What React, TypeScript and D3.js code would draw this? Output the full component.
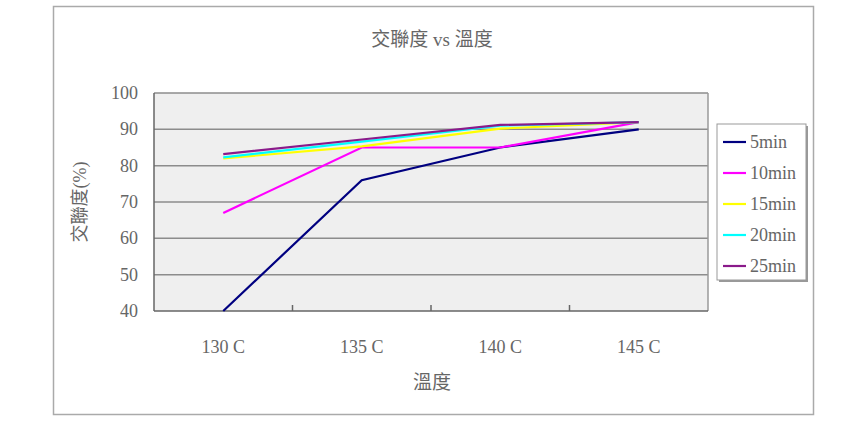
import * as d3 from 'd3';
import React, { useRef, useEffect } from 'react'

// categories and series
const categories = ["130 C", "135 C", "140 C", "145 C"];
const seriesNames = ["5min", "10min", "15min", "20min", "25min"];
const seriesColors = ["#000080", "#ff00ff", "#ffff00", "#00ffff", "#8a1a8a"];
const v5min = [40, 76, 85, 90];
const v10min = [67, 85, 85, 92];
const v15min = [82, 85.3, 90.2, 92];
const v20min = [82.3, 86.6, 91, 92];
const v25min = [83.2, 87.2, 91.2, 92];
const yTicks = [40, 50, 60, 70, 80, 90, 100];

const seriesValues = [v5min, v10min, v15min, v20min, v25min];

const W = 865, H = 434;
const latin = "'Liberation Serif', 'DejaVu Serif', serif";
const cjk = "'Liberation Serif', 'Noto Sans CJK TC', serif";
const textColor = "#666";

export default function App() {
  const svgRef = useRef(null);

  useEffect(() => {
    if (!svgRef.current) return;
    const svg = d3.select(svgRef.current);
    svg.selectAll("*").remove();

    // outer chart frame
    svg.append("rect")
      .attr("x", 53.5).attr("y", 6.5).attr("width", 760).attr("height", 408)
      .attr("fill", "#fff").attr("stroke", "#aaa").attr("stroke-width", 1.5);

    const margin = { top: 93, left: 154 };
    const pw = 554, ph = 218;

    const x = d3.scaleBand().domain(categories).range([0, pw]);
    const y = d3.scaleLinear().domain([40, 100]).range([ph, 0]);

    const g = svg.append("g").attr("transform", `translate(${margin.left},${margin.top})`);

    g.append("rect").attr("width", pw).attr("height", ph).attr("fill", "#efefef");

    // gridlines
    g.selectAll("line.grid")
      .data(yTicks.slice(1))
      .enter().append("line")
      .attr("x1", 0).attr("x2", pw)
      .attr("y1", d => y(d)).attr("y2", d => y(d))
      .attr("stroke", "#8c8c8c").attr("stroke-width", 1.5);

    // right border
    g.append("line").attr("x1", pw).attr("x2", pw).attr("y1", 0).attr("y2", ph)
      .attr("stroke", "#9a9a9a").attr("stroke-width", 1.5);

    // axes
    g.append("line").attr("x1", 0).attr("x2", 0).attr("y1", 0).attr("y2", ph)
      .attr("stroke", "#666").attr("stroke-width", 1.5);
    g.append("line").attr("x1", 0).attr("x2", pw).attr("y1", ph).attr("y2", ph)
      .attr("stroke", "#666").attr("stroke-width", 1.5);

    // x ticks between categories
    g.selectAll("line.xt")
      .data(categories.slice(1))
      .enter().append("line")
      .attr("x1", d => x(d)).attr("x2", d => x(d))
      .attr("y1", ph).attr("y2", ph - 6)
      .attr("stroke", "#666").attr("stroke-width", 1.5);

    // y tick labels
    g.selectAll("text.yl")
      .data(yTicks)
      .enter().append("text")
      .attr("x", -16).attr("y", d => y(d) + 6)
      .attr("text-anchor", "end")
      .attr("font-family", latin).attr("font-size", 18)
      .attr("fill", textColor)
      .text(d => d);

    // x tick labels
    g.selectAll("text.xl")
      .data(categories)
      .enter().append("text")
      .attr("x", d => x(d) + x.bandwidth() / 2).attr("y", ph + 42)
      .attr("text-anchor", "middle")
      .attr("font-family", latin).attr("font-size", 18)
      .attr("fill", textColor)
      .text(d => d);

    // lines
    const line = d3.line<number>()
      .x((d, i) => x(categories[i]) + x.bandwidth() / 2)
      .y(d => y(d));

    seriesValues.forEach((vals, i) => {
      g.append("path")
        .attr("d", line(vals))
        .attr("fill", "none")
        .attr("stroke", seriesColors[i])
        .attr("stroke-width", 2.2);
    });

    // title and axis titles
    svg.append("text").attr("x", 432).attr("y", 46).attr("text-anchor", "middle")
      .attr("font-family", cjk).attr("font-size", 19).attr("fill", textColor)
      .text("交聯度 vs 溫度");
    svg.append("text").attr("x", 432).attr("y", 389).attr("text-anchor", "middle")
      .attr("font-family", cjk).attr("font-size", 19).attr("fill", textColor)
      .text("溫度");
    svg.append("text")
      .attr("transform", "translate(86,202) rotate(-90)")
      .attr("text-anchor", "middle")
      .attr("font-family", cjk).attr("font-size", 18).attr("fill", textColor)
      .text("交聯度(%)");

    // legend
    const lg = svg.append("g").attr("transform", "translate(717,124)");
    lg.append("rect").attr("x", 2).attr("y", 2).attr("width", 89).attr("height", 156).attr("fill", "#999");
    lg.append("rect").attr("x", 0).attr("y", 0).attr("width", 89).attr("height", 156)
      .attr("fill", "#fff").attr("stroke", "#999").attr("stroke-width", 1);
    const items = lg.selectAll("g.item")
      .data(seriesNames)
      .enter().append("g")
      .attr("transform", (d, i) => `translate(0,${18 + i * 31})`);
    items.append("line")
      .attr("x1", 6).attr("x2", 29).attr("y1", 0).attr("y2", 0)
      .attr("stroke", (d, i) => seriesColors[i]).attr("stroke-width", 2.2);
    items.append("text")
      .attr("x", 33).attr("y", 6)
      .attr("font-family", latin).attr("font-size", 18).attr("fill", textColor)
      .text(d => d);
  }, [svgRef.current]);

  return (
    <div style={{ position: "absolute", left: 0, top: 0 }}>
      <svg ref={svgRef} width={W} height={H} style={{ display: "block" }} />
    </div>
  );
}
